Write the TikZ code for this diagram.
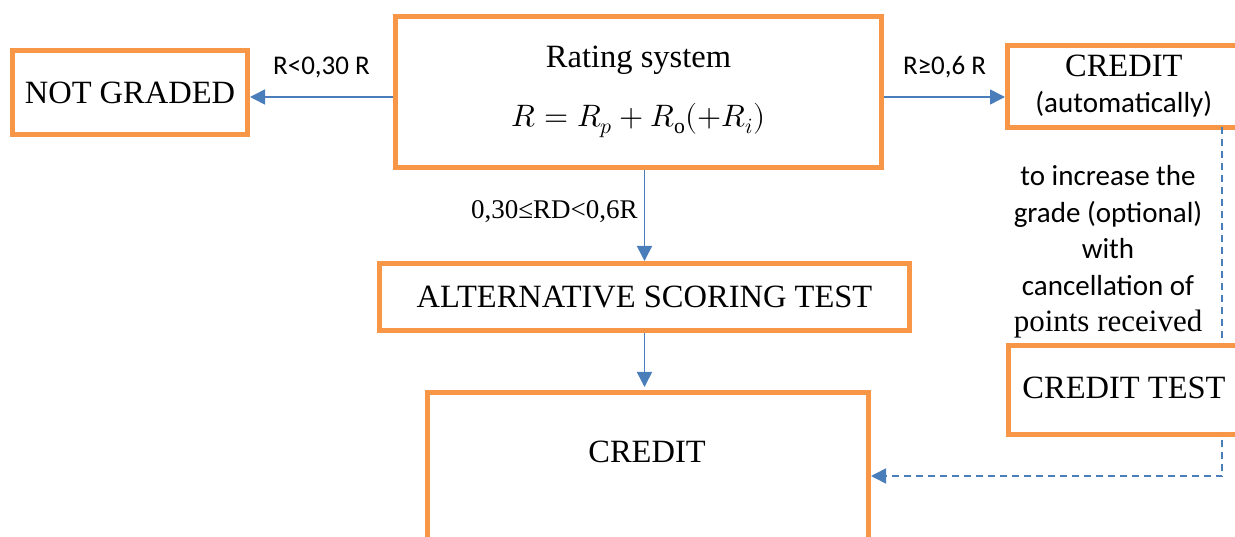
\documentclass[tikz,border=0pt]{standalone}
\usepackage{amsmath}
\usepackage{fontspec}
\usepackage{unicode-math}
\setmainfont{Liberation Serif}
\setmathfont{Latin Modern Math}
\newfontfamily\calibri{Carlito}
\newfontfamily\serifpart{Liberation Serif}
\usetikzlibrary{arrows.meta}
\definecolor{boxorange}{HTML}{F79646}
\definecolor{arrowblue}{HTML}{4A7EBB}

\begin{document}
\begin{tikzpicture}[x=1pt,y=1pt]
\tikzstyle{every node}+=[inner sep=0pt]
\tikzstyle{box}=[draw=boxorange, line width=5pt, fill=white, rectangle, align=center, font=\fontsize{32.5}{36}\selectfont]
\tikzstyle{arr}=[draw=arrowblue, line width=1.6pt, -{Triangle[length=15pt,width=15pt]}]
\tikzstyle{lbl}=[font=\calibri\fontsize{27}{32}\selectfont]
\useasboundingbox (0,0) rectangle (1235,-537);
\clip (0,0) rectangle (1235,-537);
% boxes
\node [box, minimum width=235, minimum height=84] (notgraded) at (130,-92.5) {NOT GRADED};
\node [box, minimum width=486, minimum height=151] (rating) at (638.5,-92) {Rating system\\[23pt]{\fontsize{31}{36}\selectfont $R=R_p+R_{\mathrm{o}}(+R_i)$}};
\node [box, minimum width=232.5, minimum height=82] (credauto) at (1123.75,-86.5) {CREDIT\\{\calibri\fontsize{29}{33}\selectfont (automatically)}};
\node [box, minimum width=530, minimum height=67] (alt) at (644.5,-297) {ALTERNATIVE SCORING TEST};
\node [box, minimum width=441, minimum height=200] (credit) at (648,-492.5) {};
\node [font=\fontsize{32.5}{36}\selectfont] (credittxt) at (647,-452) {CREDIT};
\node [align=center, font=\calibri\fontsize{29}{36.5}\selectfont] (note) at (1108,-252)
  {to increase the\\grade (optional)\\with\\cancellation of\\{\serifpart\fontsize{31}{36.5}\selectfont points received}};
% arrows
\draw [arr] ([yshift=-5pt]rating.west) -- ([yshift=-5pt]rating.west -| notgraded.east)
  node [lbl, midway, yshift=30pt] {R<0,30 R};
\draw [arr] ([yshift=-5pt]rating.east) -- ([yshift=-5pt]rating.east -| credauto.west)
  node [lbl, midway, yshift=30pt] {R≥0,6 R};
\draw [arr] (alt.north |- rating.south) -- (alt.north)
  node [midway, anchor=east, xshift=-6pt, yshift=4pt, font=\fontsize{27}{32}\selectfont] {0,30≤RD<0,6R};
\draw [arr, shorten >=3pt] (alt.south) -- (alt.south |- credit.north);
% dashed return line
\coordinate (dtop) at (1222,-127.5);
\coordinate (dcorner) at (1222,-476);
\draw [arr, dashed, dash pattern=on 7pt off 5pt] (dtop) -- (dcorner) -- (dcorner -| credit.east);
\node [box, minimum width=232, minimum height=89] (credtest) at (1124,-390) {\raisebox{5pt}{CREDIT TEST}};
\end{tikzpicture}
\end{document}
